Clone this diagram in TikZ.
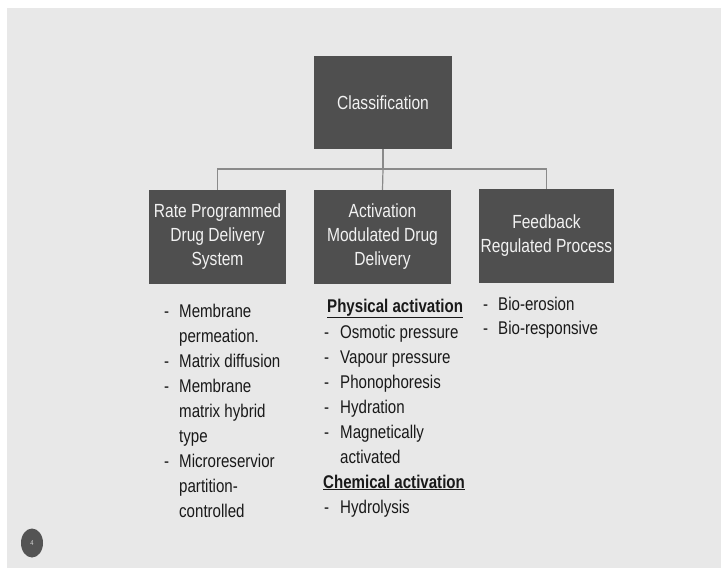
\documentclass[tikz,border=0pt]{standalone}
\usepackage{fontspec}
\usetikzlibrary{shapes.geometric}
\setmainfont{Liberation Sans}[FakeStretch=0.82]
\definecolor{bg}{HTML}{E8E8E8}
\definecolor{boxc}{HTML}{4F4F4F}
\definecolor{linec}{HTML}{8A8A8A}
\tikzset{
  catbox/.style={fill=boxc, draw=none, text=white!95!black, align=center, inner sep=0pt,
    font=\fontsize{19}{24}\selectfont},
  conn/.style={draw=linec, line width=1.2pt},
  itm/.style={anchor=base west, inner sep=0pt, text=black!90, font=\fontsize{18.4}{25}\selectfont},
  hd/.style={itm, font=\fontsize{18.4}{25}\selectfont\bfseries}
}
\newcommand{\dsh}[1]{\makebox[#1][l]{-}}
\begin{document}
\begin{tikzpicture}[x=1pt,y=-1pt]
\useasboundingbox (0,0) rectangle (721,568);
\fill[white] (0,0) rectangle (721,568);
\fill[bg] (7,8) rectangle (721,568);
% boxes
\node[catbox, minimum width=138pt, minimum height=93pt] (cls) at (383,102.5) {Classification};
\node[catbox, minimum width=137pt, minimum height=94pt] (b1) at (217.5,237) {Rate Programmed\\Drug Delivery\\System};
\node[catbox, minimum width=137pt, minimum height=94pt] (b2) at (382.5,237) {Activation\\Modulated Drug\\Delivery};
\node[catbox, minimum width=135pt, minimum height=94pt] (b3) at (546.5,236) {Feedback\\Regulated Process};
% connectors
\coordinate (j) at (383,169);
\draw[conn] (cls.south) -- (j);
\draw[conn] (b1.north) |- (j) -| (b3.north);
\draw[conn] (j) -- (b2.north);
% left list
\node[itm] (l1) at (164,317) {\dsh{15pt}Membrane};
\node[itm] (l2) at (179,342) {permeation.};
\node[itm] (l3) at (164,367) {\dsh{15pt}Matrix diffusion};
\node[itm] (l4) at (164,392) {\dsh{15pt}Membrane};
\node[itm] (l5) at (179,417) {matrix hybrid};
\node[itm] (l6) at (179,442) {type};
\node[itm] (l7) at (164,467) {\dsh{15pt}Microreservior};
\node[itm] (l8) at (179,492) {partition-};
\node[itm] (l9) at (179,517) {controlled};
% middle list
\node[hd] (m0) at (327,312) {\underline{Physical activation}};
\node[itm] (m1) at (324,338) {\dsh{16pt}Osmotic pressure};
\node[itm] (m2) at (324,363) {\dsh{16pt}Vapour pressure};
\node[itm] (m3) at (324,388) {\dsh{16pt}Phonophoresis};
\node[itm] (m4) at (324,413) {\dsh{16pt}Hydration};
\node[itm] (m5) at (324,438) {\dsh{16pt}Magnetically};
\node[itm] (m6) at (340,463) {activated};
\node[hd] (m7) at (323,488) {\underline{Chemical activation}};
\node[itm] (m8) at (324,513) {\dsh{16pt}Hydrolysis};
% right list
\node[itm] (r1) at (483,310) {\dsh{15pt}Bio-erosion};
\node[itm] (r2) at (483,334) {\dsh{15pt}Bio-responsive};
% page number
\node[ellipse, fill=black!67, minimum width=22pt, minimum height=29pt, inner sep=0pt,
  text=white!85!black, font=\fontsize{7}{8}\selectfont] (pg) at (32,543) {4};
\end{tikzpicture}
\end{document}
